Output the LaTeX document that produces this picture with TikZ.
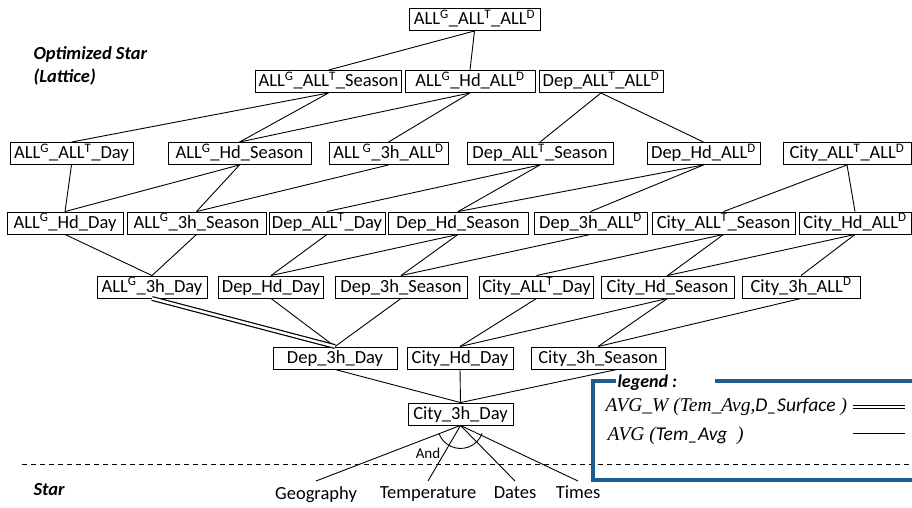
\documentclass[tikz,border=0pt]{standalone}
\usepackage{fontspec}
\setmainfont{Carlito}
\newfontfamily\legendfont{Liberation Serif}
\definecolor{legendblue}{RGB}{31,93,142}
\newcommand*\up[1]{\textsuperscript{#1}}

\tikzset{
	box/.style={draw, line width=0.9pt, inner xsep=3pt, inner ysep=2pt, text height=14pt, text depth=4pt, font=\fontsize{18.5}{20}\selectfont},
	leaf/.style={inner xsep=1pt, inner ysep=5pt, anchor=north, font=\fontsize{18.5}{20}\selectfont},
	link/.style={line width=0.9pt},
	weighted/.style={double, double distance=2.5pt, line width=1.2pt},
	title/.style={anchor=west, align=left, font=\fontsize{18.5}{23}\selectfont\bfseries\itshape}
}

\begin{document}
\begin{tikzpicture}[x=1pt, y=-1pt]
		\useasboundingbox (0,0) rectangle (912,507);

		% Draw the lattice of cuboids, row by row
		\node[box, minimum width=131] (top) at (474.5,19.5) {ALL\up{G}\_ALL\up{T}\_ALL\up{D}};

		\node[box, minimum width=145] (gts) at (328.5,81.5) {ALL\up{G}\_ALL\up{T}\_Season};
		\node[box, minimum width=130] (ghd) at (470,81.5) {ALL\up{G}\_Hd\_ALL\up{D}};
		\node[box, minimum width=124] (dtt) at (601,81.5) {Dep\_ALL\up{T}\_ALL\up{D}};

		\node[box, minimum width=123] (gtd) at (71.5,153.5) {ALL\up{G}\_ALL\up{T}\_Day};
		\node[box, minimum width=143] (ghs) at (239.5,153.5) {ALL\up{G}\_Hd\_Season};
		\node[box, minimum width=119] (g3d) at (388.5,153.5) {ALL\,\up{G}\_3h\_ALL\up{D}};
		\node[box, minimum width=146] (dts) at (540,153.5) {Dep\_ALL\up{T}\_Season};
		\node[box, minimum width=113] (dhd) at (703.5,153.5) {Dep\_Hd\_ALL\up{D}};
		\node[box, minimum width=128] (ctt) at (847,153.5) {City\_ALL\up{T}\_ALL\up{D}};

		\node[box, minimum width=116] (ghy) at (65,223) {ALL\up{G}\_Hd\_Day};
		\node[box, minimum width=139] (g3s) at (196.5,223) {ALL\up{G}\_3h\_Season};
		\node[box, minimum width=114] (dty) at (327,223) {Dep\_ALL\up{T}\_Day};
		\node[box, minimum width=140] (dhs) at (458,223) {Dep\_Hd\_Season};
		\node[box, minimum width=113] (d3a) at (590.5,223) {Dep\_3h\_ALL\up{D}};
		\node[box, minimum width=143] (cts) at (723.5,223) {City\_ALL\up{T}\_Season};
		\node[box, minimum width=112] (chd) at (855,223) {City\_Hd\_ALL\up{D}};

		\node[box, minimum width=110] (g3y) at (152,287) {ALL\up{G}\_3h\_Day};
		\node[box, minimum width=104] (dhy) at (271,287) {Dep\_Hd\_Day};
		\node[box, minimum width=132] (d3s) at (401,287) {Dep\_3h\_Season};
		\node[box, minimum width=113] (cty) at (536.5,287) {City\_ALL\up{T}\_Day};
		\node[box, minimum width=133] (chs) at (667.5,287) {City\_Hd\_Season};
		\node[box, minimum width=118] (c3a) at (801,287) {City\_3h\_ALL\up{D}};

		\node[box, minimum width=124] (d3y) at (335,358) {Dep\_3h\_Day};
		\node[box, minimum width=106] (chy) at (460,358) {City\_Hd\_Day};
		\node[box, minimum width=134] (c3s) at (598,358) {City\_3h\_Season};

		\node[box, minimum width=105] (c3y) at (460.5,414) {City\_3h\_Day};

		% Draw the roll-up links
		\foreach \a/\b in {top/gts, top/ghd, gts/gtd, gts/ghs, ghd/ghs, ghd/g3d, dtt/dts, dtt/dhd,
				gtd/ghy, ghs/ghy, ghs/g3s, g3d/g3s, dts/dty, dts/dhs, dhd/dhs, dhd/d3a, ctt/cts, ctt/chd,
				ghy/g3y, g3s/g3y, dty/dhy, dhs/dhy, dhs/d3s, d3a/d3s, cts/cty, cts/chs, chd/chs, chd/c3a,
				dhy/d3y, d3s/d3y, cty/chy, chs/chy, chs/c3s, c3a/c3s, d3y/c3y, chy/c3y}
			\draw[link] (\a.south) -- (\b.north);
		\draw[link] ([xshift=19pt]c3s.south) -- (c3y.north);
		\draw[weighted] (g3y.south) -- (d3y.north);

		% Star schema dimensions
		\node[leaf] (geo) at (316,481) {Geography};
		\node[leaf] (tem) at (428,481) {Temperature};
		\node[leaf] (dat) at (515,481) {Dates};
		\node[leaf] (tim) at (578,481) {Times};
		\foreach \d in {geo, tem, dat, tim}
			\draw[link] (c3y.south) -- (\d.north);
		\draw[link] (c3y.south) ++(160:23) arc[start angle=160, end angle=20, radius=23];
		\node[font=\fontsize{15}{16}\selectfont] (and) at (428,453) {And};

		\draw[link, dash pattern=on 5pt off 4pt] (22,464) -- (912,464);
		\node[title] (opt) at (30,66) {Optimized Star\\(Lattice)};
		\node[title] (star) at (30,489) {Star};

		% Legend
		\draw[legendblue, line width=3.5pt] (616,381) -- (593,381) -- (593,480) -- (920,480);
		\draw[legendblue, line width=3.5pt] (715,381) -- (920,381);
		\node[anchor=west, font=\fontsize{18}{20}\selectfont\bfseries\itshape] (legtitle) at (614,383) {legend :};
		\node[anchor=west, font=\fontsize{19.5}{20}\selectfont] (legw) at (602,407)
			{\legendfont\itshape AVG\_W (Tem\_Avg,\normalfont\itshape D\_Surface\legendfont\itshape{} )};
		\node[anchor=west, font=\fontsize{19.5}{20}\selectfont] (lega) at (604,436)
			{\legendfont\itshape AVG (\normalfont\itshape Tem\_Avg\legendfont\itshape{} \ )};
		\coordinate (w1) at (853,407);
		\coordinate (w2) at (905,407);
		\coordinate (a1) at (853,433);
		\coordinate (a2) at (905,433);
		\draw[weighted] (w1) -- (w2);
		\draw[link] (a1) -- (a2);
	\end{tikzpicture}
\end{document}
